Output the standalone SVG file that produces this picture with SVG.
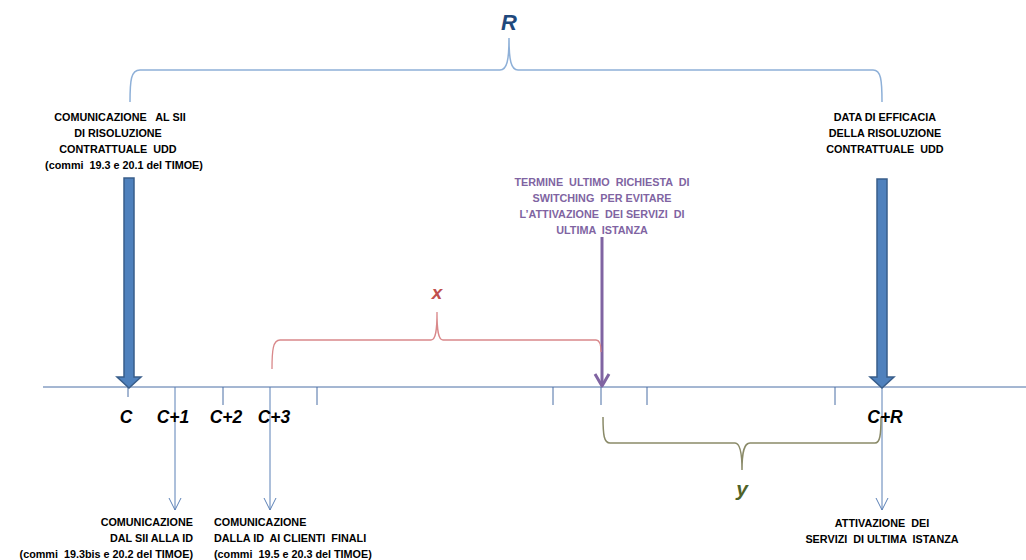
<svg xmlns="http://www.w3.org/2000/svg" width="1026" height="560" viewBox="0 0 1026 560" xml:space="preserve">
<defs>
<style>
.t{font-family:"Liberation Sans",Arial,sans-serif;font-weight:bold;font-size:10.8px;fill:#000;white-space:pre}
.p{fill:#8064a2}
.lbl{font-family:"Liberation Sans",Arial,sans-serif;font-weight:bold;font-style:italic;font-size:17.5px;fill:#000}
.axis{stroke:#4a6fa5;stroke-width:1;fill:none}
.thin{stroke:#5b80b6;stroke-width:1;fill:none}
.big{fill:#4f81bd;stroke:#385d8a;stroke-width:1.5}
</style>
<marker id="open" markerWidth="14" markerHeight="14" refX="13" refY="7" orient="auto" markerUnits="userSpaceOnUse" viewBox="0 0 14 14">
<path d="M1,1 L13,7 L1,13" fill="none" stroke="#5b80b6" stroke-width="1"/>
</marker>
</defs>
<rect width="1026" height="560" fill="#fff"/>
<g id="connectors">
<line class="axis" x1="43" y1="387" x2="1026" y2="387"/>
<line class="axis" x1="128" y1="387" x2="128" y2="397"/>
<line class="axis" x1="223" y1="387" x2="223" y2="405"/>
<line class="axis" x1="317" y1="387" x2="317" y2="405"/>
<line class="axis" x1="553" y1="387" x2="553" y2="405"/>
<line class="axis" x1="601" y1="387" x2="601" y2="405"/>
<line class="axis" x1="647" y1="387" x2="647" y2="405"/>
<line class="axis" x1="835" y1="387" x2="835" y2="405"/>
<line class="thin" x1="175" y1="387" x2="175" y2="510" marker-end="url(#open)"/>
<line class="thin" x1="270" y1="387" x2="270" y2="510" marker-end="url(#open)"/>
<line class="thin" x1="882" y1="387" x2="882" y2="510" marker-end="url(#open)"/>
<path class="big" d="M124,178 L134,178 L134,377 L141,377 L129,388 L117,377 L124,377 Z"/>
<path class="big" d="M877,179 L887,179 L887,377 L894,377 L882,388 L870,377 L877,377 Z"/>
<line x1="602" y1="237" x2="602" y2="385" stroke="#8064a2" stroke-width="3"/>
<path d="M595,374 L602,386 L609,374" fill="none" stroke="#8064a2" stroke-width="3" stroke-linejoin="round"/>
<path d="M130,102 C130,80 131,70 140,70 L500,70 C507,70 509,60 509,38 C509,60 511,70 518,70 L873,70 C881,70 882,80 882,102" fill="none" stroke="#8eb0d8" stroke-width="1.5"/>
<path d="M272,369 C272,350 273,340 280,340 L431,340 C436,340 437,330 437,312 C437,330 438,340 443,340 L596,340 C600,340 601,345 601,352" fill="none" stroke="#d9888a" stroke-width="1.3"/>
<path d="M603,417 C603,435 604,443 610,443 L735,443 C740,443 742,452 742,470 C742,452 744,443 750,443 L875,443 C880,443 881,435 881,417" fill="none" stroke="#8a8a68" stroke-width="1.5"/>
</g>
<g id="R-label"><text x="509" y="30" text-anchor="middle" font-family="Liberation Sans,Arial,sans-serif" font-weight="bold" font-style="italic" font-size="22" fill="#1f497d">R</text></g>
<g id="x-label"><text x="437" y="299" text-anchor="middle" font-family="Liberation Sans,Arial,sans-serif" font-weight="bold" font-style="italic" font-size="19" fill="#c0504d">x</text></g>
<g id="y-label"><text x="742" y="496" text-anchor="middle" font-family="Liberation Sans,Arial,sans-serif" font-weight="bold" font-style="italic" font-size="21" fill="#4f6228">y</text></g>
<g id="ticks-labels">
<text class="lbl" x="126" y="423" text-anchor="middle">C</text>
<text class="lbl" x="173" y="423" text-anchor="middle">C+1</text>
<text class="lbl" x="226" y="423" text-anchor="middle">C+2</text>
<text class="lbl" x="274" y="423" text-anchor="middle">C+3</text>
<text class="lbl" x="885" y="423" text-anchor="middle">C+R</text>
</g>
<g id="node-comunicazione-sii">
<text class="t" text-anchor="middle"><tspan x="120" y="121">COMUNICAZIONE   AL SII</tspan><tspan x="118" y="137">DI RISOLUZIONE</tspan><tspan x="118" y="153">CONTRATTUALE  UDD</tspan><tspan x="124" y="169">(commi  19.3 e 20.1 del TIMOE)</tspan></text>
</g>
<g id="node-data-efficacia">
<text class="t" text-anchor="middle"><tspan x="885" y="121">DATA DI EFFICACIA</tspan><tspan x="885" y="137">DELLA RISOLUZIONE</tspan><tspan x="885" y="153">CONTRATTUALE  UDD</tspan></text>
</g>
<g id="node-termine">
<text class="t p" text-anchor="middle"><tspan x="602" y="186">TERMINE  ULTIMO  RICHIESTA  DI</tspan><tspan x="602" y="202">SWITCHING  PER EVITARE</tspan><tspan x="602" y="218">L’ATTIVAZIONE  DEI SERVIZI  DI</tspan><tspan x="602" y="234">ULTIMA  ISTANZA</tspan></text>
</g>
<g id="node-sii-id">
<text class="t" text-anchor="end"><tspan x="193" y="526">COMUNICAZIONE</tspan><tspan x="193" y="542">DAL SII ALLA ID</tspan><tspan x="193" y="558">(commi  19.3bis e 20.2 del TIMOE)</tspan></text>
</g>
<g id="node-id-clienti">
<text class="t"><tspan x="214" y="526">COMUNICAZIONE</tspan><tspan x="214" y="542">DALLA ID  AI CLIENTI  FINALI</tspan><tspan x="214" y="558">(commi  19.5 e 20.3 del TIMOE)</tspan></text>
</g>
<g id="node-attivazione">
<text class="t" text-anchor="middle"><tspan x="882" y="527">ATTIVAZIONE  DEI</tspan><tspan x="882" y="543">SERVIZI  DI ULTIMA  ISTANZA</tspan></text>
</g>
</svg>
